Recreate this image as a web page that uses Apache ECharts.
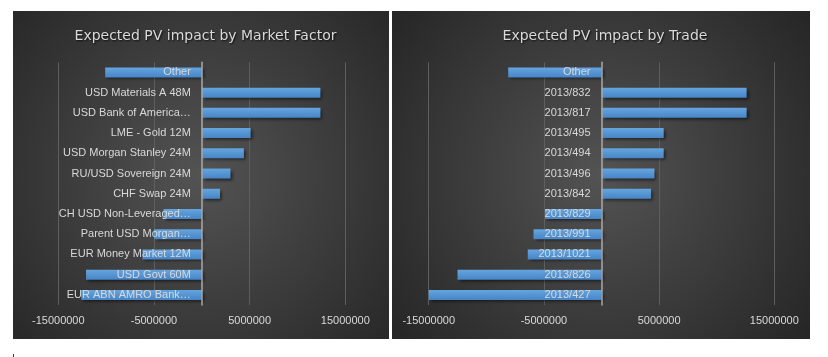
<!DOCTYPE html>
<html>
<head>
<meta charset="utf-8">
<script src="https://cdn.jsdelivr.net/npm/echarts@6/dist/echarts.min.js"></script>
<style>html,body{margin:0;padding:0;background:#fff;}#c{width:828px;height:357px;}</style>
</head>
<body>
<div id="c"></div>
<script>
// ---- data ----
var factorCategories = ['Other', 'USD Materials A 48M', 'USD Bank of America…', 'LME - Gold 12M', 'USD Morgan Stanley 24M', 'RU/USD Sovereign 24M', 'CHF Swap 24M', 'CH USD Non-Leveraged…', 'Parent USD Morgan…', 'EUR Money Market 12M', 'USD Govt 60M', 'EUR ABN AMRO Bank…'];
var factorValues = [-10100000, 12400000, 12400000, 5100000, 4400000, 3000000, 1900000, -4000000, -5000000, -6200000, -12100000, -12600000];
var tradeCategories = ['Other', '2013/832', '2013/817', '2013/495', '2013/494', '2013/496', '2013/842', '2013/829', '2013/991', '2013/1021', '2013/826', '2013/427'];
var tradeValues = [-8100000, 12600000, 12600000, 5400000, 5400000, 4600000, 4300000, -4900000, -5900000, -6400000, -12500000, -15100000];
var titles = ['Expected PV impact by Market Factor', 'Expected PV impact by Trade'];
var axisMin = -15000000, axisMax = 15000000, axisInterval = 10000000;

var chart = echarts.init(document.getElementById('c'), null, {renderer: 'canvas'});
var labelFont = 'Liberation Sans';
var textColor = '#d9d9d9';

var grids = [
  {left: 58.3, width: 287, top: 62.3, height: 242.7},
  {left: 428.7, width: 345.6, top: 62.3, height: 242.7}
];

function panelBg(x, y, w, h) {
  return {
    type: 'rect', z: -10, silent: true,
    shape: {x: x, y: y, width: w, height: h},
    style: {fill: {type: 'radial', x: 0.5, y: 0.5, r: 0.8,
      colorStops: [{offset: 0, color: '#535353'}, {offset: 1, color: '#262626'}]}}
  };
}
var barColor = {type: 'linear', x: 0, y: 0, x2: 0, y2: 1,
  colorStops: [{offset: 0, color: '#65a5df'}, {offset: 1, color: '#4785c6'}]};

function xAxisCfg(gi) {
  return {
    type: 'value', gridIndex: gi, min: axisMin, max: axisMax, interval: axisInterval,
    axisLine: {show: false}, axisTick: {show: false},
    splitLine: {show: true, lineStyle: {color: '#5e5e5e', width: 1}},
    axisLabel: {color: textColor, fontSize: 11, fontFamily: labelFont, margin: 10,
      formatter: function (v) { return String(v); }}
  };
}
function yAxisCfg(gi, cats) {
  // place the category axis (line + labels) at the value-axis zero
  var zeroOffset = -(0 - axisMin) / (axisMax - axisMin) * grids[gi].width;
  return {
    type: 'category', gridIndex: gi, data: cats, inverse: true, z: 5,
    position: 'left', offset: zeroOffset,
    axisLine: {show: true, onZero: false, lineStyle: {color: '#a9a9a9', width: 1.5}},
    axisTick: {show: false},
    splitLine: {show: false},
    axisLabel: {color: textColor, fontSize: 11, fontFamily: labelFont, margin: 11}
  };
}
function seriesCfg(gi, vals) {
  return {
    type: 'bar', xAxisIndex: gi, yAxisIndex: gi, data: vals, barWidth: 10,
    itemStyle: {color: barColor, shadowColor: 'rgba(0,0,0,0.55)', shadowBlur: 3, shadowOffsetX: 2, shadowOffsetY: 2},
    emphasis: {disabled: true}
  };
}

chart.setOption({
  animation: false,
  backgroundColor: '#ffffff',
  title: [
    {text: titles[0], left: 200.5, top: 24, textAlign: 'center',
      textStyle: {color: textColor, fontSize: 14, fontWeight: 'normal', fontFamily: 'DejaVu Sans',
        textShadowColor: 'rgba(0,0,0,0.8)', textShadowBlur: 2, textShadowOffsetX: 1, textShadowOffsetY: 1}},
    {text: titles[1], left: 600, top: 24, textAlign: 'center',
      textStyle: {color: textColor, fontSize: 14, fontWeight: 'normal', fontFamily: 'DejaVu Sans',
        textShadowColor: 'rgba(0,0,0,0.8)', textShadowBlur: 2, textShadowOffsetX: 1, textShadowOffsetY: 1}}
  ],
  graphic: [
    panelBg(13, 11, 376, 328),
    panelBg(392, 11, 418, 328),
    {type: 'line', z: -10, silent: true, shape: {x1: 13.5, y1: 354, x2: 13.5, y2: 357}, style: {stroke: '#333', lineWidth: 1}}
  ],
  grid: grids.map(function (g) {
    return {left: g.left, width: g.width, top: g.top, height: g.height, containLabel: false, outerBoundsMode: 'none'};
  }),
  xAxis: [xAxisCfg(0), xAxisCfg(1)],
  yAxis: [yAxisCfg(0, factorCategories), yAxisCfg(1, tradeCategories)],
  series: [seriesCfg(0, factorValues), seriesCfg(1, tradeValues)]
});
</script>
</body>
</html>
